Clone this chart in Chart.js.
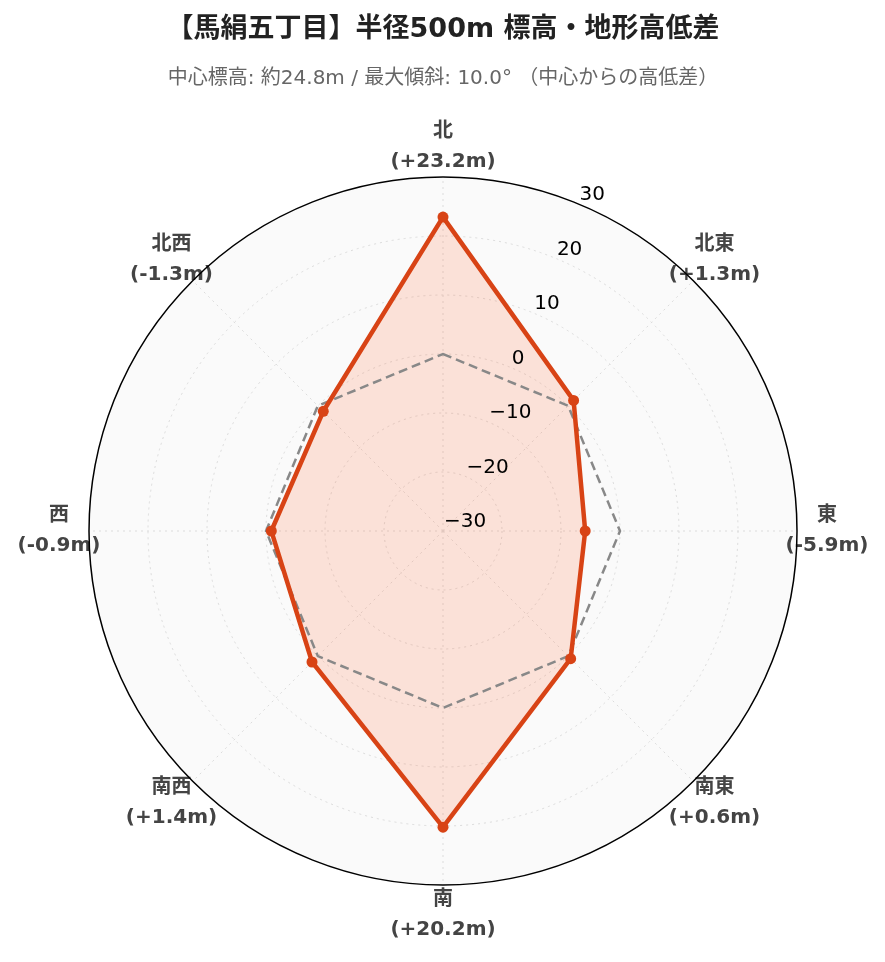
<!DOCTYPE html>
<html lang="ja">
<head>
<meta charset="utf-8">
<title>馬絹五丁目 標高・地形高低差</title>
<script src="https://cdn.jsdelivr.net/npm/chart.js@4.4.1/dist/chart.umd.min.js"></script>
<style>
  html, body { margin: 0; padding: 0; background: #fff; }
  #wrap { width: 885px; height: 962px; position: relative; }
</style>
</head>
<body>
<div id="wrap"><canvas id="terrain-chart"></canvas></div>
<script>
// 方位と中心からの高低差 (m)
const directions = ['北', '北東', '東', '南東', '南', '南西', '西', '北西'];
const diffLabels = ['(+23.2m)', '(+1.3m)', '(-5.9m)', '(+0.6m)', '(+20.2m)', '(+1.4m)', '(-0.9m)', '(-1.3m)'];
const elevationDiff = [23.2, 1.3, -5.9, 0.6, 20.2, 1.4, -0.9, -1.3];
const baseline = [0, 0, 0, 0, 0, 0, 0, 0];
const tickValues = [-30, -20, -10, 0, 10, 20, 30];

const FONT = "'DejaVu Sans', 'Noto Sans CJK JP', sans-serif";
Chart.defaults.font.family = FONT;

// 背景の円と方位ラベル（グリッドの下に描く）
const polarDecor = {
    id: 'polarDecor',
    beforeDraw(chart) {
        const scale = chart.scales.r;
        const ctx = chart.ctx;
        ctx.save();
        ctx.beginPath();
        ctx.arc(scale.xCenter, scale.yCenter, scale.drawingArea, 0, Math.PI * 2);
        ctx.fillStyle = '#fafafa';
        ctx.fill();

        ctx.font = "bold 20px " + FONT;
        ctx.fillStyle = '#444';
        ctx.textAlign = 'center';
        ctx.textBaseline = 'middle';
        directions.forEach((dir, i) => {
            const p = scale.getPointPosition(i, scale.drawingArea + 30);
            ctx.fillText(dir, p.x, p.y - 15);
            ctx.fillText(diffLabels[i], p.x, p.y + 15);
        });
        ctx.restore();
    },
    // 目盛りラベルは 22.5° の方向に並べる
    afterDraw(chart) {
        const scale = chart.scales.r;
        const ctx = chart.ctx;
        const ang = 22.5 * Math.PI / 180;
        ctx.save();
        ctx.font = "20px " + FONT;
        ctx.fillStyle = '#000';
        ctx.textAlign = 'left';
        ctx.textBaseline = 'middle';
        tickValues.forEach(v => {
            const r = scale.getDistanceFromCenterForValue(v);
            const x = scale.xCenter + r * Math.sin(ang) + 1;
            const y = scale.yCenter - r * Math.cos(ang) - 9;
            const txt = v < 0 ? '\u2212' + Math.abs(v) : String(v);
            ctx.fillText(txt, x, y);
        });
        ctx.restore();
    }
};

const lastTick = tickValues.length - 1;

new Chart(document.getElementById('terrain-chart'), {
    type: 'radar',
    data: {
        labels: directions,
        datasets: [{
            label: '高低差',
            data: elevationDiff,
            borderColor: 'rgb(216, 67, 21)',
            backgroundColor: 'rgba(255, 100, 50, 0.17)',
            borderWidth: 4.5,
            fill: 'start',
            pointRadius: 5.5,
            pointBackgroundColor: 'rgb(216, 67, 21)',
            pointBorderWidth: 0,
            tension: 0
        }, {
            label: '中心標高',
            data: baseline,
            borderColor: '#888',
            borderWidth: 2.5,
            borderDash: [9, 5],
            fill: false,
            pointRadius: 0
        }]
    },
    options: {
        responsive: true,
        maintainAspectRatio: false,
        animation: false,
        layout: { padding: { left: 88, right: 87, top: 0, bottom: 76 } },
        scales: {
            r: {
                z: 1,
                min: -30,
                max: 30,
                beginAtZero: false,
                ticks: { stepSize: 10, display: false },
                pointLabels: { display: false },
                grid: {
                    circular: true,
                    color: ctx => ctx.index === lastTick ? '#000' : '#dcdcdc',
                    lineWidth: ctx => ctx.index === lastTick ? 1.5 : 1
                },
                border: {
                    dash: ctx => ctx.index === lastTick ? [] : [2, 4]
                },
                angleLines: {
                    color: '#dcdcdc',
                    lineWidth: 1,
                    borderDash: [2, 4]
                }
            }
        },
        plugins: {
            legend: { display: false },
            tooltip: { enabled: false },
            filler: { drawTime: 'beforeDatasetsDraw' },
            title: {
                display: true,
                text: '【馬絹五丁目】半径500m 標高・地形高低差',
                color: '#222',
                font: { size: 27, weight: 'bold' },
                padding: { top: 14, bottom: 10 }
            },
            subtitle: {
                display: true,
                text: '中心標高: 約24.8m / 最大傾斜: 10.0° （中心からの高低差）',
                color: '#666',
                font: { size: 20 },
                padding: { top: 10, bottom: 86 }
            }
        }
    },
    plugins: [polarDecor]
});
</script>
</body>
</html>
